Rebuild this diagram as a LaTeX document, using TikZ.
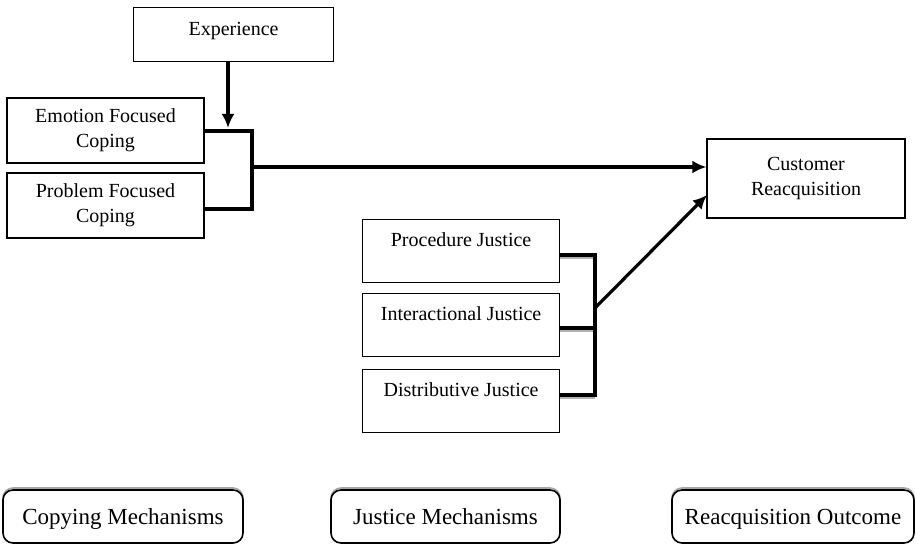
\documentclass[tikz,border=0pt]{standalone}
\usepackage{fontspec}
\setmainfont{Liberation Serif}
\usetikzlibrary{arrows.meta}
\tikzset{
  box/.style={draw, line width=0.6pt, inner xsep=2pt, inner ysep=0pt, fill=white, font=\fontsize{10}{12.5}\selectfont},
  tbox/.style={box, anchor=north west, text height=13.5pt, text depth=18pt, minimum width=98.5pt},
  cbox/.style={box, align=center, minimum width=98.5pt, minimum height=32.5pt},
  legend/.style={draw, line width=0.8pt, rounded corners=5pt, fill=white, font=\fontsize{11.5}{13}\selectfont, inner sep=0pt, text height=13.25pt, text depth=13.25pt},
  legshadow/.style={draw=gray!70, line width=0.8pt, rounded corners=5pt},
  conn/.style={line width=1.6pt},
  arr/.style={conn, -{Latex[length=7pt,width=6.5pt]}},
  shade/.style={gray!60, line width=1.2pt}
}
\begin{document}
\begin{tikzpicture}[x=0.5pt,y=-0.5pt]
\useasboundingbox (0,0) rectangle (916,545);
% top boxes
\node[box, anchor=north west, minimum width=100pt, text height=14pt, text depth=13pt] (exp) at (133,7) {Experience};
\node[cbox] (emo) at (105.5,130.5) {Emotion Focused\\Coping};
\node[cbox] (prob) at (105.5,205.5) {Problem Focused\\Coping};
\node[box, align=center, minimum width=99pt, minimum height=39.5pt] (cust) at (806,178.5) {Customer\\Reacquisition};
% justice boxes
\node[tbox] (proc) at (362,219) {Procedure Justice};
\node[tbox] (inter) at (362,293) {Interactional Justice};
\node[tbox] (dist) at (362,369) {Distributive Justice};
% coping bracket
\coordinate (c1) at (252,131);
\coordinate (c2) at (252,209);
\coordinate (cm) at (252,167);
\coordinate (ea) at (228,131);
\draw[conn] (emo.east |- c1) -- (c1) -- (c2) -- (prob.east |- c2);
\draw[arr] (exp.south -| ea) -- ([yshift=1.5pt]ea);
\draw[arr] (cm) -- (cust.west |- cm);
% justice bracket
\coordinate (j1) at (595,255);
\coordinate (j2) at (595,328);
\coordinate (j3) at (595,395);
\coordinate (jm) at (595,308);
\coordinate (ct) at (707,195);
\draw[shade] ([yshift=-1.5pt]proc.east |- j1) -- ([yshift=-1.5pt]j1);
\draw[shade] ([yshift=-1.5pt]inter.east |- j2) -- ([yshift=-1.5pt]j2);
\draw[shade] ([yshift=-1.5pt]dist.east |- j3) -- ([yshift=-1.5pt]j3);
\draw[conn] (proc.east |- j1) -- (j1) -- (j3) -- (dist.east |- j3);
\draw[conn] (inter.east |- j2) -- (j2);
\draw[arr] (jm) -- (ct);
% legend boxes
\draw[legshadow] (3,488) rectangle (243,540);
\draw[legshadow] (331,488) rectangle (560,540);
\draw[legshadow] (672,488) rectangle (914,540);
\node[legend, minimum width=120pt] (lc) at (123,516.5) {\raisebox{-4pt}{Copying Mechanisms}};
\node[legend, minimum width=114.5pt] (lj) at (445.5,516.5) {\raisebox{-4pt}{Justice Mechanisms}};
\node[legend, minimum width=121pt] (lr) at (793,516.5) {\raisebox{-4pt}{Reacquisition Outcome}};
\end{tikzpicture}
\end{document}
